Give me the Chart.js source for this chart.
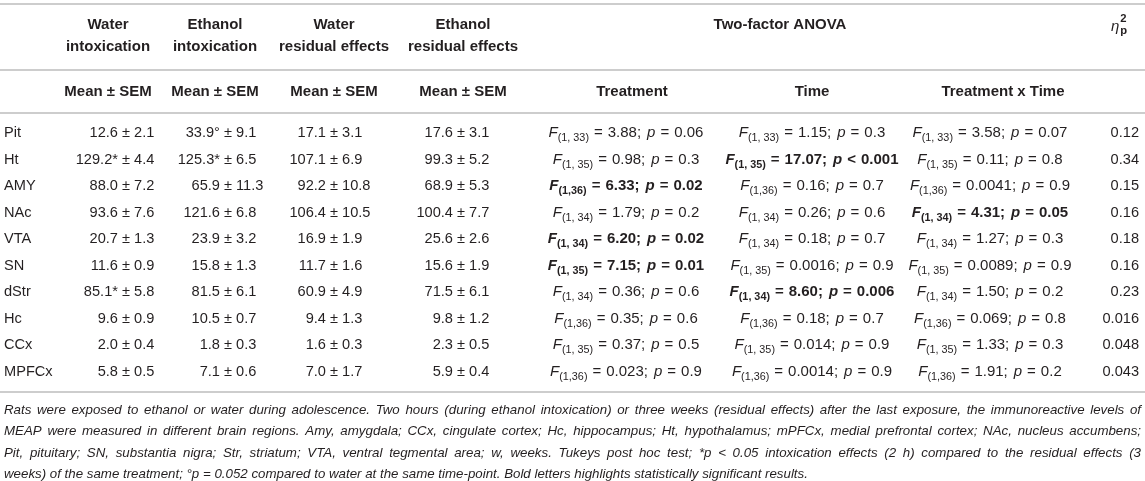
<!DOCTYPE html>
<html>
<head>
<meta charset="utf-8">
<script src="https://cdn.jsdelivr.net/npm/chart.js@4/dist/chart.umd.min.js"></script>
<style>
  html, body { margin: 0; padding: 0; background: #fff; }
</style>
</head>
<body>
<canvas id="anovaTable" width="1145" height="481"></canvas>
<script>
// brain regions (rows)
const regions = ['Pit', 'Ht', 'AMY', 'NAc', 'VTA', 'SN', 'dStr', 'Hc', 'CCx', 'MPFCx'];

// Mean ± SEM per group
const waterIntoxMean = [12.6, 129.2, 88.0, 93.6, 20.7, 11.6, 85.1, 9.6, 2.0, 5.8];
const waterIntoxSem = [2.1, 4.4, 7.2, 7.6, 1.3, 0.9, 5.8, 0.9, 0.4, 0.5];
const waterIntoxMark = ['', '*', '', '', '', '', '*', '', '', ''];
const ethanolIntoxMean = [33.9, 125.3, 65.9, 121.6, 23.9, 15.8, 81.5, 10.5, 1.8, 7.1];
const ethanolIntoxSem = [9.1, 6.5, 11.3, 6.8, 3.2, 1.3, 6.1, 0.7, 0.3, 0.6];
const ethanolIntoxMark = ['°', '*', '', '', '', '', '', '', '', ''];
const waterResMean = [17.1, 107.1, 92.2, 106.4, 16.9, 11.7, 60.9, 9.4, 1.6, 7.0];
const waterResSem = [3.1, 6.9, 10.8, 10.5, 1.9, 1.6, 4.9, 1.3, 0.3, 1.7];
const ethanolResMean = [17.6, 99.3, 68.9, 100.4, 25.6, 15.6, 71.5, 9.8, 2.3, 5.9];
const ethanolResSem = [3.1, 5.2, 5.3, 7.7, 2.6, 1.9, 6.1, 1.2, 0.5, 0.4];

// two-factor ANOVA
const dfs = ['1, 33', '1, 35', '1,36', '1, 34', '1, 34', '1, 35', '1, 34', '1,36', '1, 35', '1,36'];
const treatF = ['3.88', '0.98', '6.33', '1.79', '6.20', '7.15', '0.36', '0.35', '0.37', '0.023'];
const treatOp = ['=', '=', '=', '=', '=', '=', '=', '=', '=', '='];
const treatP = ['0.06', '0.3', '0.02', '0.2', '0.02', '0.01', '0.6', '0.6', '0.5', '0.9'];
const treatSig = [false, false, true, false, true, true, false, false, false, false];
const timeF = ['1.15', '17.07', '0.16', '0.26', '0.18', '0.0016', '8.60', '0.18', '0.014', '0.0014'];
const timeOp = ['=', '<', '=', '=', '=', '=', '=', '=', '=', '='];
const timeP = ['0.3', '0.001', '0.7', '0.6', '0.7', '0.9', '0.006', '0.7', '0.9', '0.9'];
const timeSig = [false, true, false, false, false, false, true, false, false, false];
const interF = ['3.58', '0.11', '0.0041', '4.31', '1.27', '0.0089', '1.50', '0.069', '1.33', '1.91'];
const interOp = ['=', '=', '=', '=', '=', '=', '=', '=', '=', '='];
const interP = ['0.07', '0.8', '0.9', '0.05', '0.3', '0.9', '0.2', '0.8', '0.3', '0.2'];
const interSig = [false, false, false, true, false, false, false, false, false, false];
const etaSq = ['0.12', '0.34', '0.15', '0.16', '0.18', '0.16', '0.23', '0.016', '0.048', '0.043'];

const groupHeaders = [['Water', 'intoxication'], ['Ethanol', 'intoxication'],
  ['Water', 'residual effects'], ['Ethanol', 'residual effects']];
const anovaHeaders = ['Treatment', 'Time', 'Treatment x Time'];

const footnote = [
  'Rats were exposed to ethanol or water during adolescence. Two hours (during ethanol intoxication) or three weeks (residual effects) after the last exposure, the immunoreactive levels of',
  'MEAP were measured in different brain regions. Amy, amygdala; CCx, cingulate cortex; Hc, hippocampus; Ht, hypothalamus; mPFCx, medial prefrontal cortex; NAc, nucleus accumbens;',
  'Pit, pituitary; SN, substantia nigra; Str, striatum; VTA, ventral tegmental area; w, weeks. Tukeys post hoc test; *p < 0.05 intoxication effects (2 h) compared to the residual effects (3',
  'weeks) of the same treatment; °p = 0.052 compared to water at the same time-point. Bold letters highlights statistically significant results.'
];

// layout (pixels along the x scale)
const FONT = '"Liberation Sans", Arial, sans-serif';
const BODY = 14.6;
const STAT = 15;
const HEAD = 15;
const INK = '#231f20';
const RULE = '#bdbdbd';
// x of the "±" sign in each group column, and header centre
const groupCols = [{ pm: 122, head: 108 }, { pm: 224, head: 215 },
  { pm: 330, head: 334 }, { pm: 457, head: 463 }];
const anovaCols = [626, 812, 990];
const anovaHeadX = [632, 812, 1003];
const etaCol = 1139;

function meanCells(mean, sem, mark) {
  return mean.map((m, i) => ({
    left: [{ t: m.toFixed(1) + (mark ? mark[i] : '') + ' ' }],
    right: [{ t: '± ' + sem[i].toFixed(1) }]
  }));
}
function anovaCells(F, op, P, sig) {
  return F.map((f, i) => {
    const b = sig[i];
    return [{ t: 'F', it: true, b }, { t: '(' + dfs[i] + ')', sub: true, b },
      { g: 5 }, { t: '=', b }, { g: 5 }, { t: f + ';', b }, { g: 6 },
      { t: 'p', it: true, b }, { g: 5 }, { t: op[i], b }, { g: 5 }, { t: P[i], b }];
  });
}

function fontFor(s, size) {
  const sz = (s.sub || s.sup) ? size * 0.72 : size;
  return (s.it ? 'italic ' : '') + (s.b ? 'bold ' : '') + sz + 'px ' + FONT;
}
function measureRich(ctx, segs, size) {
  let w = 0;
  segs.forEach(s => {
    if (s.g !== undefined) { s.w = s.g; } else { ctx.font = fontFor(s, size); s.w = ctx.measureText(s.t).width; }
    w += s.w;
  });
  return w;
}
function drawRich(ctx, segs, x, y, align, size) {
  const w = measureRich(ctx, segs, size);
  let cx = align === 'right' ? x - w : align === 'center' ? x - w / 2 : x;
  segs.forEach(s => {
    if (s.g === undefined) {
      ctx.font = fontFor(s, size);
      const dy = s.sub ? size * 0.32 : s.sup ? -size * 0.38 : 0;
      ctx.fillText(s.t, cx, y + dy);
    }
    cx += s.w;
  });
}

const columns = [
  { cells: regions.map(r => [{ t: r }]), x: 4, align: 'left', size: BODY },
  { cells: meanCells(waterIntoxMean, waterIntoxSem, waterIntoxMark), x: groupCols[0].pm, align: 'pm', size: BODY },
  { cells: meanCells(ethanolIntoxMean, ethanolIntoxSem, ethanolIntoxMark), x: groupCols[1].pm, align: 'pm', size: BODY },
  { cells: meanCells(waterResMean, waterResSem), x: groupCols[2].pm, align: 'pm', size: BODY },
  { cells: meanCells(ethanolResMean, ethanolResSem), x: groupCols[3].pm, align: 'pm', size: BODY },
  { cells: anovaCells(treatF, treatOp, treatP, treatSig), x: anovaCols[0], align: 'center', size: STAT },
  { cells: anovaCells(timeF, timeOp, timeP, timeSig), x: anovaCols[1], align: 'center', size: STAT },
  { cells: anovaCells(interF, interOp, interP, interSig), x: anovaCols[2], align: 'center', size: STAT },
  { cells: etaSq.map(v => [{ t: v }]), x: etaCol, align: 'right', size: BODY }
];

const tablePlugin = {
  id: 'tableText',
  afterDatasetsDraw(chart) {
    const ctx = chart.ctx;
    const xs = chart.scales.x;
    const W = chart.width;
    ctx.save();
    ctx.fillStyle = INK;
    ctx.textBaseline = 'middle';
    ctx.textAlign = 'left';

    // body cells, placed by the scales
    chart.data.datasets.forEach((ds, i) => {
      chart.getDatasetMeta(i).data.forEach((pt, j) => {
        const cell = ds.cells[j];
        if (ds.align === 'pm') {
          drawRich(ctx, cell.left, pt.x, pt.y, 'right', ds.size);
          drawRich(ctx, cell.right, pt.x, pt.y, 'left', ds.size);
        } else {
          drawRich(ctx, cell, pt.x, pt.y, ds.align, ds.size);
        }
      });
    });

    // rules
    ctx.strokeStyle = RULE;
    ctx.lineWidth = 1.6;
    [4, 70, 113, 392].forEach(y => {
      ctx.beginPath(); ctx.moveTo(0, y); ctx.lineTo(W, y); ctx.stroke();
    });

    // header
    ctx.textAlign = 'center';
    ctx.font = 'bold ' + HEAD + 'px ' + FONT;
    groupCols.forEach((c, i) => {
      const x = xs.getPixelForValue(c.head);
      ctx.fillText(groupHeaders[i][0], x, 25);
      ctx.fillText(groupHeaders[i][1], x, 47);
      ctx.fillText('Mean ± SEM', x, 92);
    });
    ctx.fillText('Two-factor ANOVA', xs.getPixelForValue(780), 25);
    anovaHeaders.forEach((h, i) => ctx.fillText(h, xs.getPixelForValue(anovaHeadX[i]), 92));
    // partial eta squared
    const ex = xs.getPixelForValue(1111);
    ctx.textAlign = 'left';
    ctx.font = 'italic ' + HEAD + 'px ' + FONT;
    ctx.fillText('η', ex, 27);
    const ew = ctx.measureText('η').width;
    ctx.font = 'bold ' + (HEAD * 0.75) + 'px ' + FONT;
    ctx.fillText('2', ex + ew + 1, 19);
    ctx.fillText('p', ex + ew + 1, 31);

    // footnote, justified
    ctx.font = 'italic 13.3px ' + FONT;
    const left = 4, right = W - 4;
    footnote.forEach((line, i) => {
      const y = 410 + i * 21.5;
      const words = line.split(' ');
      if (i === footnote.length - 1) { ctx.fillText(line, left, y); return; }
      const widths = words.map(w => ctx.measureText(w).width);
      const total = widths.reduce((a, b) => a + b, 0);
      const gap = (right - left - total) / (words.length - 1);
      let x = left;
      words.forEach((w, k) => { ctx.fillText(w, x, y); x += widths[k] + gap; });
    });
    ctx.restore();
  }
};

const ctx = document.getElementById('anovaTable').getContext('2d');
const anovaTable = new Chart(ctx, {
  type: 'scatter',
  data: {
    datasets: columns.map(c => ({
      data: regions.map(r => ({ x: c.x, y: r })),
      cells: c.cells,
      align: c.align,
      size: c.size,
      pointRadius: 0,
      pointHoverRadius: 0
    }))
  },
  options: {
    responsive: false,
    animation: false,
    events: [],
    layout: { padding: { left: 0, right: 0, top: 120, bottom: 96 } },
    scales: {
      x: { type: 'linear', min: 0, max: 1145, display: false },
      y: { type: 'category', labels: regions, offset: true, display: false }
    },
    plugins: { legend: { display: false }, tooltip: { enabled: false } }
  },
  plugins: [tablePlugin]
});
</script>
</body>
</html>
